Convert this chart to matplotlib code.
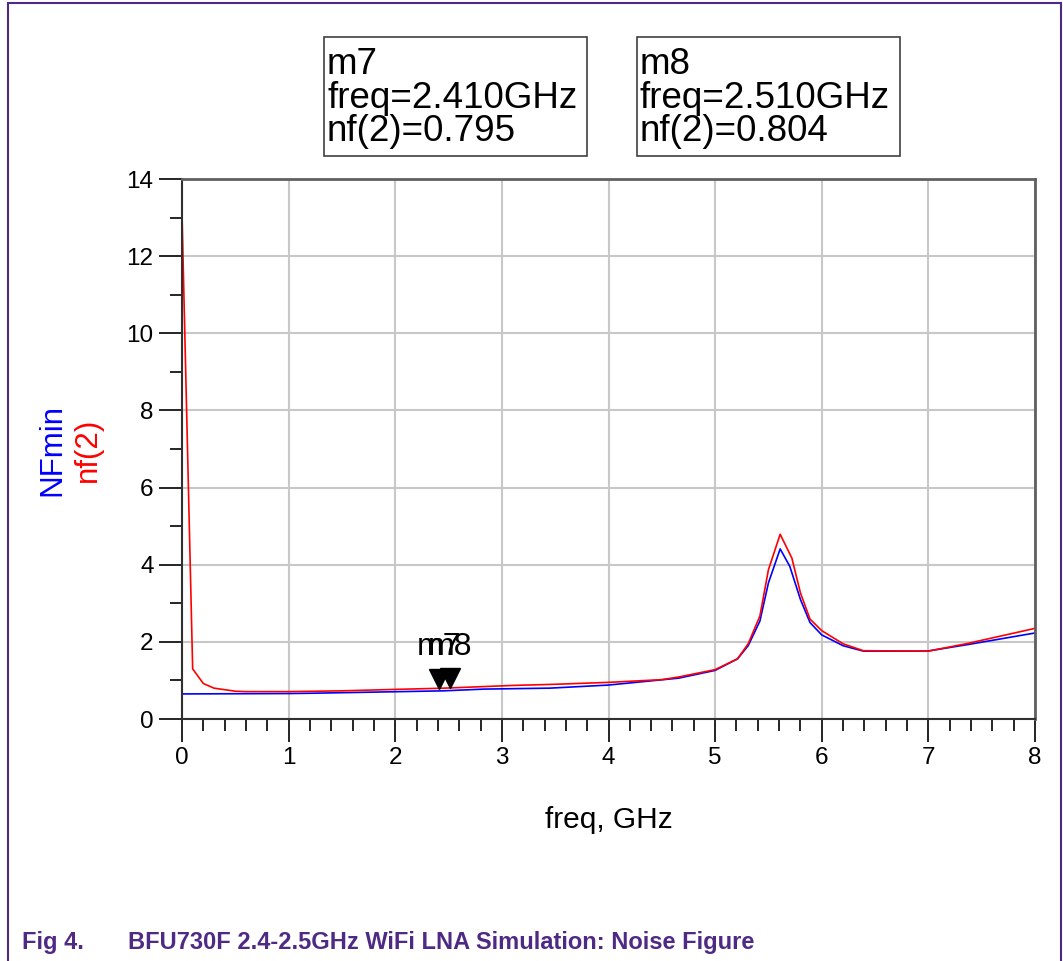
import matplotlib.pyplot as plt
from matplotlib.patches import Rectangle
from matplotlib.ticker import MultipleLocator
from matplotlib.transforms import ScaledTranslation

# frequency points, GHz
freq_nf = [0.0, 0.1, 0.2, 0.3, 0.5, 0.6, 1.0, 1.5, 1.9, 2.4, 2.5, 3.1, 3.5, 4.0, 4.5,
           4.66, 5.0, 5.21, 5.31, 5.42, 5.5, 5.61, 5.72, 5.8, 5.89, 6.0, 6.2, 6.39,
           7.0, 7.37, 8.0]
nf2 = [13.1, 1.3, 0.92, 0.8, 0.72, 0.71, 0.71, 0.73, 0.76, 0.795, 0.804, 0.87, 0.90, 0.95,
       1.02, 1.09, 1.28, 1.56, 1.95, 2.67, 3.87, 4.79, 4.17, 3.27, 2.59, 2.29, 1.95, 1.77,
       1.76, 1.96, 2.35]

freq_nfmin = [0.0, 1.0, 1.26, 1.86, 2.45, 2.83, 3.45, 4.0, 4.66, 5.0, 5.21, 5.31, 5.42,
              5.5, 5.61, 5.7, 5.8, 5.89, 6.0, 6.2, 6.39, 6.99, 7.37, 8.0]
nfmin = [0.65, 0.66, 0.67, 0.70, 0.73, 0.775, 0.80, 0.88, 1.06, 1.26, 1.56, 1.90, 2.54,
         3.53, 4.41, 3.96, 3.10, 2.50, 2.18, 1.90, 1.76, 1.76, 1.93, 2.23]

markers = ['m7', 'm8']
marker_freq = [2.41, 2.51]
marker_nf = [0.795, 0.804]

purple = '#4e2a84'
plt.rcParams['font.family'] = ['Liberation Sans', 'DejaVu Sans']

W, H = 1063, 961
fig = plt.figure(figsize=(W / 100, H / 100), dpi=100)

# page frame
fig.add_artist(Rectangle((8 / W, -0.05), 1053 / W, 1.05 - 3 / H,
                         transform=fig.transFigure, fill=False, edgecolor=purple, lw=1.5))

ax = fig.add_axes([182 / W, 1 - 719 / H, 853 / W, 540 / H])
ax.plot(freq_nfmin, nfmin, color='#0000ff', lw=1.2)
ax.plot(freq_nf, nf2, color='#ff0000', lw=1.2)

ax.set_xlim(0, 8)
ax.set_ylim(0, 14)
ax.xaxis.set_major_locator(MultipleLocator(1))
ax.xaxis.set_minor_locator(MultipleLocator(0.2))
ax.yaxis.set_major_locator(MultipleLocator(2))
ax.yaxis.set_minor_locator(MultipleLocator(1))
ax.grid(True, which='major', color='#c8c8c8', lw=1.5)
ax.set_axisbelow(True)
ax.tick_params(which='major', length=16.5, width=1.2, labelsize=17.5, color='black', pad=4)
ax.tick_params(which='minor', length=8.5, width=1.2, color='black')
for side in ['left', 'bottom']:
    ax.spines[side].set_color('#303030')
    ax.spines[side].set_linewidth(1.5)
for side in ['top', 'right']:
    ax.spines[side].set_color('#606060')
    ax.spines[side].set_linewidth(2)

ax.set_xlabel('freq, GHz', fontsize=21.5, labelpad=26)
fig.text(52 / W, 1 - 450 / H, 'NFmin', color='#0000ff', fontsize=22.5,
         rotation=90, ha='center', va='center')
fig.text(88 / W, 1 - 450 / H, 'nf(2)', color='#ff0000', fontsize=22.5,
         rotation=90, ha='center', va='center')

# markers on nf(2): triangle tip sits on the curve
shift = ax.transData + ScaledTranslation(0, 7 / 72, fig.dpi_scale_trans)
for name, f, v in zip(markers, marker_freq, marker_nf):
    ax.plot(f, v, marker='v', color='black', markersize=14, linestyle='none',
            transform=shift)
    ax.annotate(name, (f, v), xytext=(0, 19), textcoords='offset points',
                ha='center', va='bottom', fontsize=23)

# marker readout boxes
box_x = [324, 637]
for name, f, v, bx in zip(markers, marker_freq, marker_nf, box_x):
    fig.add_artist(Rectangle((bx / W, 1 - 156 / H), 263 / W, 119 / H,
                             transform=fig.transFigure, facecolor='white',
                             edgecolor='#404040', lw=1.2))
    fig.text((bx + 3) / W, 1 - 98 / H,
             f'{name}\nfreq={f:.3f}GHz\nnf(2)={v:.3f}',
             fontsize=26.5, linespacing=0.95, ha='left', va='center')

fig.text(22 / W, 1 - 942 / H, 'Fig 4.', color=purple, fontsize=17,
         fontweight='bold', va='center')
fig.text(128 / W, 1 - 942 / H, 'BFU730F 2.4-2.5GHz WiFi LNA Simulation: Noise Figure',
         color=purple, fontsize=17, fontweight='bold', va='center')

fig.savefig('out.png', dpi=100)
